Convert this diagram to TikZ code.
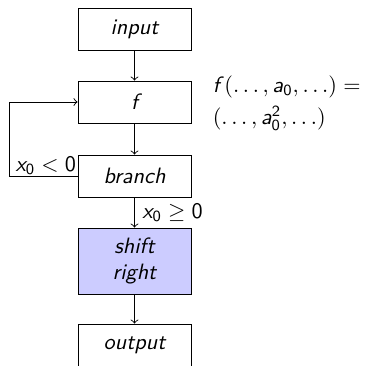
\documentclass[tikz,border=0pt]{standalone}
% sans-serif italic letters for math
\DeclareMathAlphabet{\mathsfit}{OT1}{cmss}{m}{sl}
\newcommand{\sv}[1]{\mathsfit{#1}}
\newcommand{\sn}[1]{\mathsf{#1}}
\begin{document}
\begin{tikzpicture}[x=0.45pt,y=-0.45pt,font=\sffamily,
  block/.style={draw,thin,minimum width=50.85pt,minimum height=18.9pt,
    inner sep=0pt,font=\sffamily\itshape},
  link/.style={->,thin}]
\useasboundingbox (0,0) rectangle (367,365);
% flow blocks
\node[block] (input) at (134.5,29) {input};
\node[block] (f) at (134.5,102) {f};
\node[block] (branch) at (134.5,176) {branch};
\node[block,fill=blue!20,minimum height=29.7pt,align=center] (shift) at (134.5,261) {shift\\right};
\node[block] (output) at (134.5,345) {output};
% loop-back corners
\coordinate (loopA) at (9,176);
\coordinate (loopB) at (9,102);
% connectors
\draw[link] (input) -- (f);
\draw[link] (f) -- (branch);
\draw[link] (branch.west) -- (loopA) -- (loopB) -- (f.west);
\node[above left,inner sep=0.5pt] (neg) at (branch.west) {$\sv{x}_{\sn{0}} < \sn{0}$};
\draw[link] (branch) -- node[right] (pos) {$\sv{x}_{\sn{0}} \geq \sn{0}$} (shift);
\draw[link] (shift) -- (output);
% definition of f
\node[anchor=west,align=left,font=\sffamily\fontsize{10.4}{12}\selectfont] (def) at (205,103)
  {$\sv{f}(\dots,\sv{a}_{\sn{0}},\dots) =$\\[2.5pt]$(\dots,\sv{a}_{\sn{0}}^{\sn{2}},\dots)$};
\end{tikzpicture}
\end{document}
